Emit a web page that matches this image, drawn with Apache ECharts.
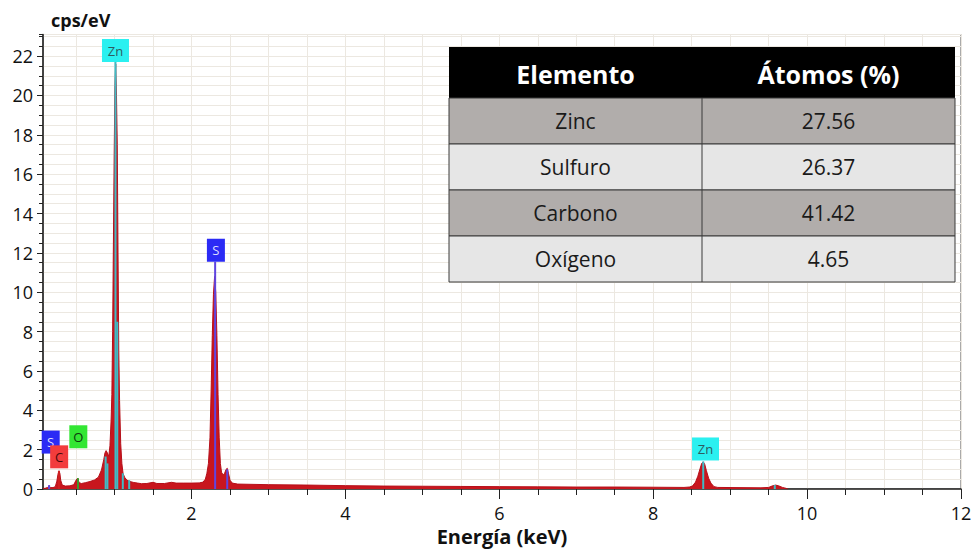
<!DOCTYPE html>
<html>
<head>
<meta charset="utf-8">
<script src="https://cdn.jsdelivr.net/npm/echarts@6/dist/echarts.min.js"></script>
<style>
  html, body { margin: 0; padding: 0; background: #fff; }
  #chart { width: 971px; height: 550px; }
</style>
</head>
<body>
<div id="chart"></div>
<script>
// EDS spectrum (keV, cps/eV)
const energyKeV = [
  0.07, 0.10, 0.13, 0.15, 0.17, 0.20, 0.23, 0.25, 0.265, 0.278, 0.29, 0.30, 0.32, 0.36, 0.42, 0.47,
  0.50, 0.52, 0.54, 0.57, 0.62, 0.68, 0.74, 0.79, 0.83, 0.86, 0.875, 0.89, 0.905, 0.925, 0.94, 0.955,
  0.965, 0.975, 0.985, 0.995, 1.005, 1.015, 1.025, 1.035, 1.045, 1.055, 1.065, 1.08, 1.095, 1.11, 1.13, 1.16,
  1.20, 1.25, 1.30, 1.35, 1.42, 1.50, 1.55, 1.65, 1.74, 1.80, 1.90, 2.00, 2.10, 2.15, 2.18, 2.20,
  2.22, 2.24, 2.255, 2.27, 2.285, 2.30, 2.315, 2.33, 2.345, 2.36, 2.375, 2.39, 2.41, 2.43, 2.45, 2.465,
  2.48, 2.50, 2.53, 2.60, 3.00, 3.50, 4.00, 4.50, 5.00, 5.50, 6.00, 6.50, 7.00, 7.50, 8.00, 8.40,
  8.47, 8.51, 8.55, 8.58, 8.61, 8.63, 8.65, 8.67, 8.69, 8.72, 8.75, 8.79, 8.84, 9.40, 9.50, 9.55,
  9.59, 9.63, 9.68, 9.73, 9.75
];
const countsPerEV = [
  0.02, 0.04, 0.08, 0.15, 0.07, 0.07, 0.12, 0.40, 0.75, 0.93, 0.78, 0.45, 0.20, 0.15, 0.16, 0.22,
  0.45, 0.55, 0.32, 0.28, 0.32, 0.38, 0.46, 0.60, 0.97, 1.50, 1.83, 1.95, 1.85, 1.65, 2.20, 3.50,
  4.80, 8.00, 12.5, 17.0, 20.5, 21.6, 20.0, 17.5, 12.0, 7.00, 4.50, 2.30, 1.30, 0.80, 0.60, 0.45,
  0.38, 0.33, 0.30, 0.27, 0.28, 0.34, 0.28, 0.28, 0.34, 0.30, 0.30, 0.30, 0.31, 0.35, 0.50, 0.80,
  1.30, 2.60, 5.00, 7.80, 9.90, 10.8, 10.0, 7.80, 4.80, 2.60, 1.30, 0.85, 0.72, 0.80, 1.00, 1.05,
  0.80, 0.45, 0.30, 0.25, 0.22, 0.20, 0.17, 0.15, 0.14, 0.13, 0.12, 0.11, 0.10, 0.10, 0.09, 0.08,
  0.10, 0.15, 0.35, 0.65, 1.05, 1.30, 1.38, 1.25, 0.95, 0.55, 0.30, 0.12, 0.08, 0.06, 0.08, 0.16,
  0.20, 0.16, 0.08, 0.03, 0
];

// element marker lines
const lineEnergy = [0.149, 0.277, 0.525, 0.884, 0.907, 1.012, 1.035, 1.107, 1.19, 2.307, 2.464, 8.65, 9.58];
const lineHeight = [0.20, 0.90, 0.55, 1.65, 1.30, 21.7, 8.5, 0.80, 0.45, 11.55, 1.0, 1.40, 0.20];
const lineElement = ["S", "C", "O", "Zn", "Zn", "Zn", "Zn", "Zn", "Zn", "S", "S", "Zn", "Zn"];

// element tags
const tagText = ["S", "C", "O", "Zn", "S", "Zn"];
const tagEnergy = [0.17, 0.28, 0.529, 1.012, 2.317, 8.68];
const tagHeight = [1.8, 1.05, 2.07, 21.7, 11.55, 1.45];

const xTickLabels = [2, 4, 6, 8, 10, 12];
const yTickLabels = [0, 2, 4, 6, 8, 10, 12, 14, 16, 18, 20, 22];

const tableHeader = ["Elemento", "Átomos (%)"];
const tableElements = ["Zinc", "Sulfuro", "Carbono", "Oxígeno"];
const tableAtoms = ["27.56", "26.37", "41.42", "4.65"];

const elementStyle = {
  Zn: { box: "#2bf0f0", text: "#2e5c60", line: "#3fbcc6" },
  S: { box: "#2b2bf5", text: "#dcdcff", line: "#5f45e0" },
  C: { box: "#f23c3c", text: "#4a0a0a", line: "#d02020" },
  O: { box: "#33e633", text: "#0d3a0d", line: "#3a9a2a" },
};

const FONT = '"Open Sans", "Noto Sans", sans-serif';
const halfSteps = [];
for (let v = 0.5; v <= 12; v += 0.5) halfSteps.push(v);

function buildTable() {
  var x0 = 449, y0 = 47, colW = 253, headH = 51, rowH = 46;
  var els = [];
  els.push({ type: "rect", shape: { x: x0, y: y0, width: colW * 2, height: headH }, style: { fill: "#000" } });
  tableHeader.forEach(function (t, i) {
    els.push({
      type: "text",
      style: {
        text: t, x: x0 + colW * i + colW / 2, y: y0 + headH / 2 + 1,
        fill: "#fff", font: "bold 25px " + FONT,
        align: "center", verticalAlign: "middle", textAlign: "center", textVerticalAlign: "middle",
      },
    });
  });
  tableElements.forEach(function (name, r) {
    var y = y0 + headH + r * rowH;
    els.push({
      type: "rect", shape: { x: x0, y: y, width: colW * 2, height: rowH },
      style: { fill: r % 2 === 0 ? "#b1adab" : "#e6e6e6", stroke: "#3a3a3a", lineWidth: 1 },
    });
    [name, tableAtoms[r]].forEach(function (t, i) {
      els.push({
        type: "text",
        style: {
          text: t, x: x0 + colW * i + colW / 2, y: y + rowH / 2,
          fill: "#1a1a1a", font: "21px " + FONT,
          align: "center", verticalAlign: "middle", textAlign: "center", textVerticalAlign: "middle",
        },
      });
    });
  });
  els.push({
    type: "line", shape: { x1: x0 + colW, y1: y0 + headH, x2: x0 + colW, y2: y0 + headH + rowH * 4 },
    style: { stroke: "#3a3a3a", lineWidth: 1 },
  });
  return els.map(function (e) { e.z = 100; return e; });
}

var chart = echarts.init(document.getElementById("chart"), null, { renderer: "svg" });
chart.setOption({
  animation: false,
  backgroundColor: "#fff",
  title: {
    text: "cps/eV", left: 46, top: 6,
    textStyle: { fontFamily: FONT, fontWeight: "bold", fontSize: 18, color: "#111" },
  },
  grid: {
    left: 43, right: 10, top: 34.5, bottom: 61,
    outerBoundsMode: "none", containLabel: false,
    show: true, borderColor: "#555", borderWidth: 1,
  },
  graphic: buildTable(),
  xAxis: [
    {
      type: "value", min: 0.07, max: 12,
      name: "Energía (keV)", nameLocation: "middle", nameGap: 36,
      nameTextStyle: { fontFamily: FONT, fontWeight: "bold", fontSize: 20, color: "#111" },
      axisLine: { show: true, lineStyle: { color: "#222", width: 1.5 } },
      axisTick: { show: true, customValues: halfSteps, length: 6, lineStyle: { color: "#222" } },
      axisLabel: { customValues: xTickLabels, margin: 15, fontSize: 18, color: "#111", fontFamily: FONT },
      splitLine: { show: true, lineStyle: { color: "#ece8e1" } },
    },
    {
      type: "value", min: 0.07, max: 12, position: "bottom",
      axisLine: { show: false },
      axisTick: { show: true, customValues: xTickLabels, length: 10, lineStyle: { color: "#222" } },
      axisLabel: { show: false },
      splitLine: { show: false },
    },
  ],
  yAxis: [
    {
      type: "value", min: 0, max: 23.1, interval: 0.5,
      axisLine: { show: true, lineStyle: { color: "#222", width: 1.5 } },
      axisTick: { show: true, length: 4, lineStyle: { color: "#222" } },
      axisLabel: {
        margin: 10, fontSize: 18, color: "#111", fontFamily: FONT,
        formatter: function (v) { return yTickLabels.indexOf(v) >= 0 ? String(v) : ""; },
      },
      splitLine: { show: true, lineStyle: { color: "#ece8e1" } },
    },
    {
      type: "value", min: 0, max: 23.1, position: "left",
      axisLine: { show: false },
      axisTick: { show: true, customValues: yTickLabels, length: 6, lineStyle: { color: "#222" } },
      axisLabel: { show: false },
      splitLine: { show: false },
    },
  ],
  series: [
    {
      name: "Espectro",
      type: "line",
      data: energyKeV.map(function (e, i) { return [e, countsPerEV[i]]; }),
      showSymbol: false,
      symbol: "none",
      lineStyle: { color: "#b5101a", width: 1 },
      areaStyle: { color: "#c8161e", opacity: 1 },
      z: 2,
    },
    {
      name: "Líneas",
      type: "custom",
      z: 3,
      data: lineEnergy.map(function (e, i) { return [e, lineHeight[i]]; }),
      renderItem: function (params, api) {
        var p0 = api.coord([api.value(0), 0]);
        var p1 = api.coord([api.value(0), api.value(1)]);
        return {
          type: "line",
          shape: { x1: p0[0], y1: p0[1], x2: p1[0], y2: p1[1] },
          style: { stroke: elementStyle[lineElement[params.dataIndex]].line, lineWidth: 2 },
        };
      },
    },
    {
      name: "Etiquetas",
      type: "custom",
      z: 4,
      clip: false,
      data: tagEnergy.map(function (e, i) { return [e, tagHeight[i]]; }),
      renderItem: function (params, api) {
        var txt = tagText[params.dataIndex];
        var st = elementStyle[txt];
        var p = api.coord([api.value(0), api.value(1)]);
        var w = txt.length > 1 ? 27 : 18, h = 23;
        return {
          type: "group",
          children: [
            { type: "rect", shape: { x: p[0] - w / 2, y: p[1] - h, width: w, height: h }, style: { fill: st.box } },
            {
              type: "text",
              style: {
                text: txt, x: p[0], y: p[1] - h / 2, fill: st.text, font: "13px " + FONT,
                align: "center", verticalAlign: "middle", textAlign: "center", textVerticalAlign: "middle",
              },
            },
          ],
        };
      },
    },
  ],
});
</script>
</body>
</html>
